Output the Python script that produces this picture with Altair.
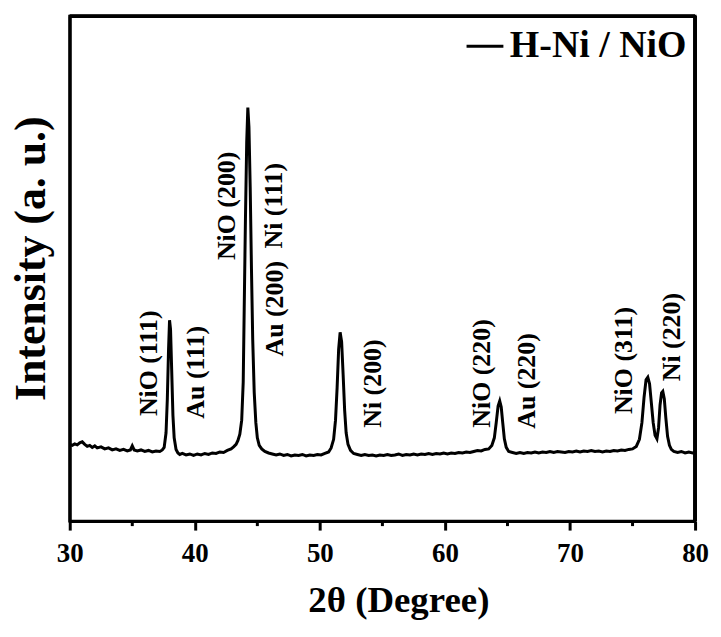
import altair as alt
import pandas as pd

two_theta = [
    30.0, 30.2, 30.4, 30.6, 30.8, 31.0, 31.2, 31.4, 31.6, 31.8, 32.0, 32.2, 32.5, 32.8, 33.1, 33.4, 33.7,
    34.0, 34.3, 34.6, 34.85, 35.0, 35.15, 35.4, 35.7, 36.0, 36.3, 36.6, 36.9, 37.2, 37.4, 37.55, 37.7,
    37.8, 37.9, 37.98, 38.06, 38.15, 38.25, 38.35, 38.5, 38.65, 38.8, 39.0, 39.3, 39.6, 39.9, 40.2, 40.5,
    40.8, 41.1, 41.4, 41.7, 42.0, 42.3, 42.6, 42.9, 43.1, 43.3, 43.45, 43.6, 43.75, 43.87, 43.95, 44.05,
    44.15, 44.24, 44.33, 44.43, 44.53, 44.63, 44.75, 44.88, 45.0, 45.15, 45.35, 45.6, 45.9, 46.2, 46.5,
    46.8, 47.1, 47.4, 47.7, 48.0, 48.3, 48.6, 48.9, 49.2, 49.5, 49.8, 50.1, 50.4, 50.7, 50.9, 51.1, 51.25,
    51.38, 51.5, 51.62, 51.74, 51.86, 51.98, 52.1, 52.25, 52.45, 52.7, 53.0, 53.3, 53.6, 53.9, 54.2, 54.5,
    54.8, 55.1, 55.4, 55.7, 56.0, 56.3, 56.6, 56.9, 57.2, 57.5, 57.8, 58.1, 58.4, 58.7, 59.0, 59.3, 59.6,
    59.9, 60.2, 60.5, 60.8, 61.1, 61.4, 61.7, 62.0, 62.3, 62.6, 62.9, 63.2, 63.5, 63.75, 63.95, 64.1,
    64.25, 64.38, 64.5, 64.62, 64.75, 64.9, 65.1, 65.4, 65.7, 66.0, 66.3, 66.6, 66.9, 67.2, 67.5, 67.8,
    68.1, 68.4, 68.7, 69.0, 69.3, 69.6, 69.9, 70.2, 70.5, 70.8, 71.1, 71.4, 71.7, 72.0, 72.3, 72.6, 72.9,
    73.2, 73.5, 73.8, 74.1, 74.4, 74.7, 75.0, 75.3, 75.55, 75.75, 75.92, 76.08, 76.22, 76.36, 76.5, 76.65,
    76.8, 76.95, 77.08, 77.2, 77.32, 77.42, 77.54, 77.66, 77.8, 77.95, 78.1, 78.3, 78.6, 78.9, 79.2, 79.5,
    79.8, 80.0,
]
intensity = [
    152, 150, 153, 151, 155, 157, 152, 148, 150, 146, 149, 145, 147, 143, 145, 141, 143,
    140, 142, 139, 141, 149, 141, 139, 141, 138, 140, 137, 139, 138, 141, 146, 175,
    240, 340, 398, 380, 300, 210, 165, 142, 135, 132, 134, 131, 133, 130, 133, 131,
    134, 132, 135, 134, 137, 136, 140, 143, 147, 152, 160, 172, 200, 275, 420, 600,
    750, 819, 780, 660, 500, 360, 255, 195, 165, 150, 143, 138, 135, 133, 131,
    133, 130, 132, 129, 131, 130, 132, 129, 131, 130, 132, 131, 134, 137, 145, 162, 200,
    265, 340, 374, 355, 290, 220, 175, 152, 140, 134, 132, 130, 132, 130, 131, 129,
    131, 130, 132, 130, 131, 133, 130, 132, 131, 133, 131, 133, 132, 134, 132, 134, 133,
    135, 133, 135, 134, 136, 135, 137, 136, 138, 140, 139, 142, 143, 150, 165, 195,
    228, 238, 226, 195, 163, 146, 138, 136, 134, 136, 134, 136, 135, 137, 135, 137,
    136, 138, 136, 138, 137, 136, 138, 137, 139, 137, 139, 138, 140, 138, 139, 137, 139,
    138, 140, 139, 141, 140, 142, 143, 148, 162, 195, 245, 280, 285, 272, 235, 195,
    170, 163, 185, 230, 254, 257, 242, 205, 168, 150, 142, 138, 136, 138, 135, 137,
    135, 136,
]

peak_labels = ["NiO (111)", "Au (111)", "NiO (200)", "Ni (111)", "Au (200)",
               "Ni (200)", "NiO (220)", "Au (220)", "NiO (311)", "Ni (220)"]
label_theta = [36.35, 40.08, 42.54, 46.35, 46.43, 54.29, 62.94, 66.59, 74.29, 78.17]
label_level = [208, 203, 517, 540, 326, 185, 185, 183, 212, 277]

major_ticks = [30, 40, 50, 60, 70, 80]
minor_ticks = [35, 45, 55, 65, 75]
series_name = "H-Ni / NiO"

FONT = "Liberation Serif"
W, H = 628, 507

df = pd.DataFrame({"two_theta": two_theta, "intensity": intensity, "series": series_name})
lab_df = pd.DataFrame({"two_theta": label_theta, "intensity": label_level, "label": peak_labels})
minor_df = pd.DataFrame({"two_theta": minor_ticks})

x_enc = alt.X(
    "two_theta:Q",
    scale=alt.Scale(domain=[30, 80], nice=False, zero=False),
    axis=alt.Axis(
        values=major_ticks, title="2θ (Degree)", format="d", labelFlush=False,
        labelFont=FONT, labelFontSize=27, labelFontWeight="bold", labelColor="black",
        labelPadding=11, tickSize=9, tickWidth=3, tickColor="black",
        domainWidth=3, domainColor="black", grid=False,
        titleFont=FONT, titleFontSize=37, titleFontWeight="bold", titleColor="black",
        titlePadding=16, titleX=330,
    ),
)
y_enc = alt.Y(
    "intensity:Q",
    scale=alt.Scale(domain=[0, 1000]),
    axis=alt.Axis(
        labels=False, ticks=False, grid=False, title="Intensity (a. u.)",
        domainWidth=3, domainColor="black",
        titleFont=FONT, titleFontSize=44, titleFontWeight="bold", titleColor="black",
        titlePadding=16, titleY=243,
    ),
)

line = alt.Chart(df).mark_line(strokeWidth=3).encode(
    x=x_enc,
    y=y_enc,
    color=alt.Color(
        "series:N",
        scale=alt.Scale(domain=[series_name], range=["black"]),
        legend=alt.Legend(
            title=None, orient="none", legendX=397, legendY=10,
            symbolType="stroke", symbolSize=1369, symbolStrokeWidth=3,
            labelFont=FONT, labelFontSize=38, labelFontWeight="bold", labelColor="black",
            padding=0, labelOffset=5, labelLimit=400,
        ),
    ),
)

labels = alt.Chart(lab_df).mark_text(
    angle=270, align="left", baseline="middle",
    font=FONT, fontSize=26, fontWeight="bold", color="black",
).encode(x="two_theta:Q", y="intensity:Q", text="label:N")

minor = alt.Chart(minor_df).mark_rule(color="black", strokeWidth=3).encode(
    x="two_theta:Q", y=alt.value(H), y2=alt.value(H + 5)
)

frame_top = alt.Chart(minor_df).mark_rule(color="black", strokeWidth=3).encode(
    x=alt.value(0), x2=alt.value(W), y=alt.value(0)
)
frame_right = alt.Chart(minor_df).mark_rule(color="black", strokeWidth=3).encode(
    x=alt.value(W), y=alt.value(0), y2=alt.value(H)
)

chart = alt.layer(line, labels, minor, frame_top, frame_right).properties(
    width=W, height=H,
    autosize=alt.AutoSizeParams(type="pad"),
    padding={"left": 2, "top": 5, "right": 4, "bottom": 0},
).configure_view(stroke="black", strokeWidth=3)

chart.save("out.html", embed_options={"renderer": "svg", "actions": False})
